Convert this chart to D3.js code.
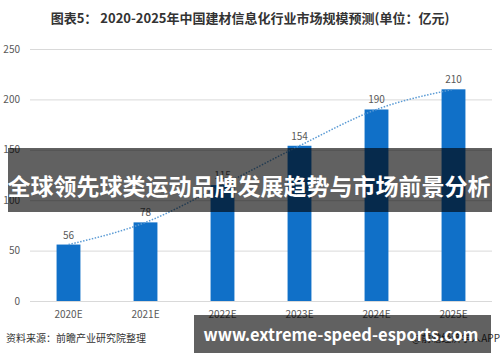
<!DOCTYPE html>
<meta charset="utf-8">
<head>
    <script type="text/javascript" src="https://cdn.jsdelivr.net/npm/d3@7"></script>
    <style>
        body { margin: 0; background: #fff; }
        text { font-family: "Noto Sans CJK SC", "Liberation Sans", sans-serif; }
    </style>
    <title></title>
</head>
<body>
    <script>
        // data
        var years = ["2020E", "2021E", "2022E", "2023E", "2024E", "2025E"];
        var values = [56, 78, 115, 154, 190, 210];
        var yTicks = [0, 50, 100, 150, 200, 250];

        var width = 500, height = 362;
        var plot = {left: 30, right: 492, top: 49, bottom: 301};

        var svg = d3.select("body").append("svg")
            .attr("width", width)
            .attr("height", height);

        var x = d3.scaleBand()
            .domain(years)
            .range([plot.left, plot.right])
            .paddingInner(0.69)
            .paddingOuter(0.345);

        var y = d3.scaleLinear()
            .domain([0, 250])
            .range([plot.bottom, plot.top]);

        // title
        svg.append("text")
            .attr("x", 250)
            .attr("y", 23)
            .attr("text-anchor", "middle")
            .style("font-size", "13px")
            .style("font-weight", "bold")
            .style("fill", "#333")
            .text("图表5： 2020-2025年中国建材信息化行业市场规模预测(单位：亿元)");

        // gridlines
        svg.append("g").selectAll("line")
            .data(yTicks)
            .enter().append("line")
            .attr("x1", plot.left)
            .attr("x2", plot.right)
            .attr("y1", d => y(d) + 0.5)
            .attr("y2", d => y(d) + 0.5)
            .style("stroke", "#d9d9d9")
            .style("stroke-width", 1);

        // y tick labels
        svg.append("g").selectAll("text")
            .data(yTicks)
            .enter().append("text")
            .attr("x", 20)
            .attr("y", d => y(d) + 3.5)
            .attr("text-anchor", "end")
            .style("font-size", "10px")
            .style("fill", "#595959")
            .text(d => d);

        // bars
        svg.append("g").selectAll("rect")
            .data(values)
            .enter().append("rect")
            .attr("x", (d, i) => x(years[i]))
            .attr("y", d => y(d))
            .attr("width", x.bandwidth())
            .attr("height", d => y(0) - y(d))
            .style("fill", "#1070c8");

        // value labels
        svg.append("g").selectAll("text")
            .data(values)
            .enter().append("text")
            .attr("x", (d, i) => x(years[i]) + x.bandwidth() / 2)
            .attr("y", d => y(d) - 6)
            .attr("text-anchor", "middle")
            .style("font-size", "10px")
            .style("fill", "#595959")
            .text(d => d);

        // dotted trend line
        var line = d3.line()
            .x((d, i) => x(years[i]) + x.bandwidth() / 2)
            .y(d => y(d))
            .curve(d3.curveMonotoneX);
        svg.append("path")
            .datum(values)
            .attr("d", line)
            .style("fill", "none")
            .style("stroke", "#5b9bd5")
            .style("stroke-width", 1.5)
            .style("stroke-dasharray", "1.5,1.5");

        // x labels
        svg.append("g").selectAll("text")
            .data(years)
            .enter().append("text")
            .attr("x", d => x(d) + x.bandwidth() / 2)
            .attr("y", 318)
            .attr("text-anchor", "middle")
            .style("font-size", "10px")
            .style("fill", "#595959")
            .text(d => d);

        // source
        svg.append("text")
            .attr("x", 6)
            .attr("y", 342)
            .style("font-size", "10px")
            .style("fill", "#333")
            .text("资料来源：前瞻产业研究院整理");
        svg.append("text")
            .attr("x", 500)
            .attr("y", 342)
            .attr("text-anchor", "end")
            .style("font-size", "10px")
            .style("fill", "#333")
            .text("@前瞻经济学人APP");

        // overlay banners
        svg.append("rect")
            .attr("x", 8).attr("y", 148)
            .attr("width", 484).attr("height", 64)
            .style("fill", "rgba(0,0,0,0.62)");
        svg.append("text")
            .attr("x", 249)
            .attr("y", 195)
            .attr("text-anchor", "middle")
            .style("font-size", "23px")
            .style("font-weight", "bold")
            .style("fill", "#fff")
            .text("全球领先球类运动品牌发展趋势与市场前景分析");

        svg.append("rect")
            .attr("x", 194).attr("y", 315)
            .attr("width", 297).attr("height", 38)
            .style("fill", "rgba(0,0,0,0.62)");
        svg.append("text")
            .attr("x", 341)
            .attr("y", 341)
            .attr("text-anchor", "middle")
            .style("font-size", "16.5px")
            .style("font-weight", "bold")
            .style("fill", "#fff")
            .text("www.extreme-speed-esports.com");
    </script>
</body>
</html>
